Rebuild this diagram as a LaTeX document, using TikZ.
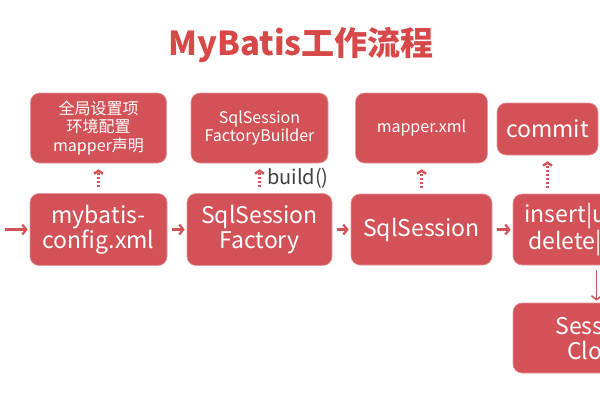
\documentclass[tikz,border=0pt]{standalone}
\usepackage{fontspec}
\newfontfamily\cjk{Noto Sans CJK SC}
\usetikzlibrary{arrows.meta,positioning}

\definecolor{boxred}{RGB}{211,82,88}
\definecolor{titlered}{RGB}{215,72,72}
\definecolor{labelgray}{RGB}{64,64,64}

\tikzset{
  stagebox/.style={fill=boxred, draw=boxred!60!white, line width=0.6pt,
    rounded corners=9pt, text=white, align=center, inner sep=0pt},
  bigtext/.style={font=\cjk\fontsize{23}{25}\selectfont},
  smalltext/.style={font=\cjk\fontsize{16}{18.5}\selectfont},
  flow/.style={boxred, line width=2.2pt,
    -{Straight Barb[length=4pt,width=10pt]}, shorten <=5pt, shorten >=2pt},
  hint/.style={boxred, line width=2.4pt, dash pattern=on 2pt off 2pt,
    -{Straight Barb[length=3pt,width=9pt]}, shorten <=6pt, shorten >=6pt}
}

\begin{document}
\begin{tikzpicture}[x=1pt,y=-1pt]
  \useasboundingbox (0,0) rectangle (600,400);
  \clip (0,0) rectangle (600,400);

  \node[font=\cjk\bfseries\fontsize{33}{36}\selectfont, text=titlered] (title) at (301,45) {MyBatis工作流程};

  % lower row
  \node[stagebox, bigtext, minimum width=137pt, minimum height=72pt] (config) at (98.5,229.5) {mybatis-\\config.xml};
  \node[stagebox, bigtext, minimum width=145pt, minimum height=72pt] (factory) at (259.5,229.5) {SqlSession\\Factory};
  \node[stagebox, bigtext, minimum width=141pt, minimum height=71pt] (session) at (421.5,229.5) {SqlSession};
  \node[stagebox, bigtext, minimum width=167pt, minimum height=71pt] (crud) at (596.5,229.5) {insert|update\\delete|select};
  \node[stagebox, bigtext, minimum width=167pt, minimum height=70pt] (close) at (596.5,338) {Session\\Close};

  % upper row
  \node[stagebox, smalltext, minimum width=136pt, minimum height=70pt] (global) at (98.5,128) {全局设置项\\环境配置\\mapper声明};
  \node[stagebox, smalltext, minimum width=137pt, minimum height=70pt] (builder) at (259.5,128) {SqlSession\\FactoryBuilder};
  \node[stagebox, smalltext, minimum width=132pt, minimum height=70pt] (mapper) at (421.5,128) {mapper.xml};
  \node[stagebox, bigtext, minimum width=101pt, minimum height=52pt] (commit) at (547.5,129) {commit};

  \coordinate (start) at (0,229.5);

  \draw[flow] (start) -- (config);
  \draw[flow] (config) -- (factory);
  \draw[flow] (factory) -- (session);
  \draw[flow] (session) -- (crud);
  \draw[flow, line width=1.5pt] (crud) -- (close);

  \draw[hint] (config) -- (global);
  \draw[hint] (factory) -- node[right=3pt, text=labelgray, font=\cjk\fontsize{20}{22}\selectfont] (build) {build()} (builder);
  \draw[hint] (session) -- (mapper);
  \draw[hint] (crud.north -| commit.south) -- (commit.south);
\end{tikzpicture}
\end{document}
